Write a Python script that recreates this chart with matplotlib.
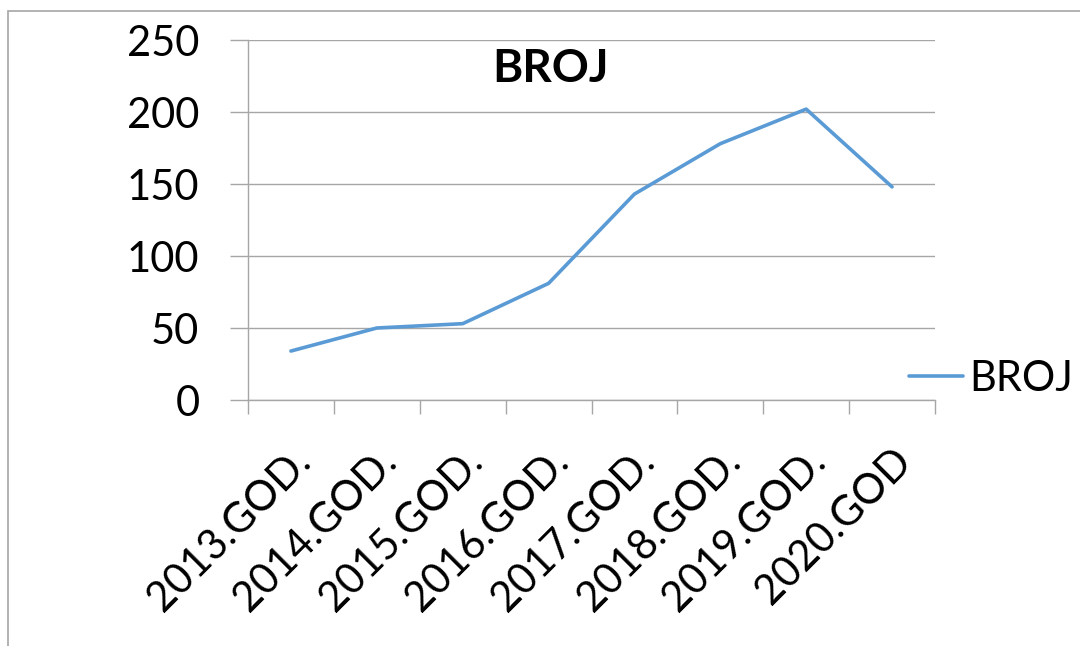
import matplotlib.pyplot as plt
from matplotlib.patches import Rectangle

# data
years = ['2013.GOD.', '2014.GOD.', '2015.GOD.', '2016.GOD.',
         '2017.GOD.', '2018.GOD.', '2019.GOD.', '2020.GOD']
broj = [34, 50, 53, 81, 143, 178, 202, 148]
yticks = [0, 50, 100, 150, 200, 250]

LINE_COLOR = '#5B9BD5'
GRID_COLOR = '#A6A6A6'
W, H = 1080, 646

plt.rcParams['font.family'] = ['Lato', 'DejaVu Sans']


def main():
    fig = plt.figure(figsize=(W / 100, H / 100), dpi=100)
    ax = fig.add_axes([248 / W, 1 - 400 / H, (935 - 248) / W, 360 / H])

    x = list(range(len(years)))
    line, = ax.plot(x, broj, color=LINE_COLOR, lw=2.6, solid_joinstyle='round',
                    solid_capstyle='round', label='BROJ')

    ax.set_xlim(-0.5, len(years) - 0.5)
    ax.set_ylim(0, 250)
    ax.set_yticks(yticks)
    ax.set_yticklabels([str(v) for v in yticks], fontsize=30)
    ax.yaxis.grid(True, color=GRID_COLOR, lw=1)
    ax.set_axisbelow(True)

    ax.set_xticks([i - 0.5 for i in range(len(years) + 1)])
    ax.set_xticklabels([])
    ax.set_xticks(x, minor=True)
    ax.set_xticklabels(years, minor=True, fontsize=30, rotation=45,
                       ha='right', va='top', rotation_mode='anchor')
    ax.tick_params(axis='x', which='minor', length=0, pad=30)
    ax.tick_params(axis='x', which='major', length=10, color=GRID_COLOR, width=1)
    ax.tick_params(axis='y', length=13, color=GRID_COLOR, width=1, pad=22)

    for s in ['top', 'right']:
        ax.spines[s].set_visible(False)
    for s in ['left', 'bottom']:
        ax.spines[s].set_color(GRID_COLOR)
        ax.spines[s].set_linewidth(1)

    ax.text(0.44, 0.92, 'BROJ', transform=ax.transAxes, ha='center', va='center',
            fontsize=33, fontweight='bold')

    fig.legend(handles=[line], loc='center left', bbox_to_anchor=(909 / W, 1 - 379 / H),
               frameon=False, fontsize=30, handlelength=1.3, handletextpad=0.15,
               borderaxespad=0, borderpad=0)

    fig.patches.append(Rectangle((8 / W, -0.1), 1.2, 1 - 11 / H + 0.1,
                                 transform=fig.transFigure, fill=False,
                                 edgecolor=GRID_COLOR, lw=1.2))

    fig.savefig('out.png', dpi=100)


if __name__ == '__main__':
    main()
